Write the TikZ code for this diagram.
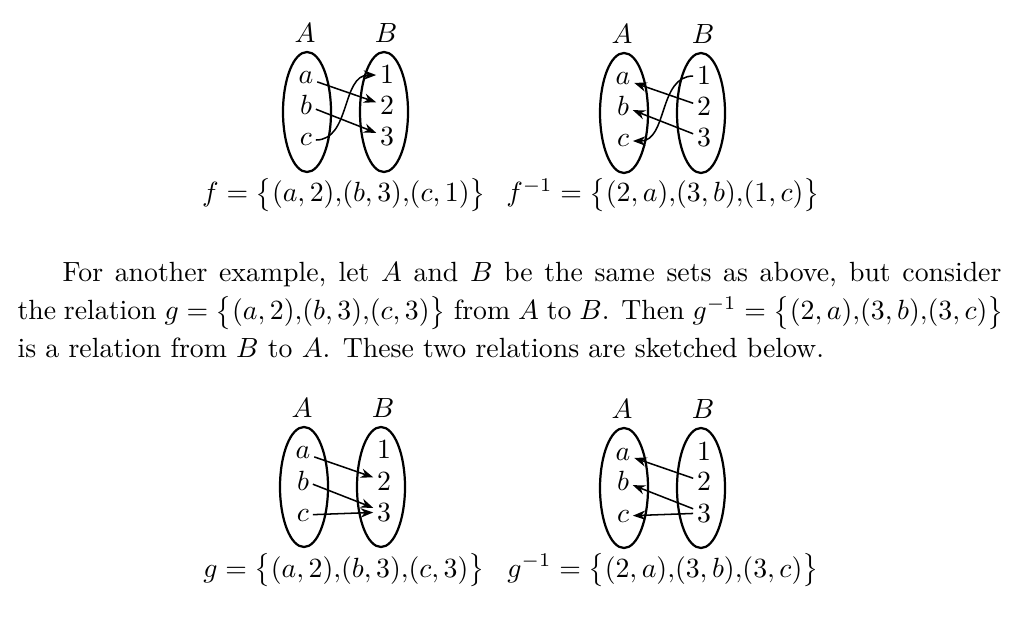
\documentclass[tikz,border=0pt]{standalone}
\usepackage{amsmath}
\usepackage{tikz}
\usetikzlibrary{
  arrows.meta,  % Tip "Stealth"
}
% Two sets A and B side by side, prefix #1, left set at (#2,#3)
\newcommand{\setpair}[3]{%
  \draw[my set] (#2,#3+60) ellipse [x radius=24,y radius=60];
  \draw[my set] (#2+77,#3+60) ellipse [x radius=24,y radius=60];
  \node[set name] (#1A) at (#2-2,#3-9) {$A$};
  \node[set name] (#1B) at (#2+79,#3-9) {$B$};
  \node[elem] (#1a) at (#2-1,#3+32) {$a$};
  \node[elem] (#1b) at (#2-1,#3+63) {$b$};
  \node[elem] (#1c) at (#2-1,#3+94) {$c$};
  \node[elem] (#11) at (#2+80,#3+32) {$1$};
  \node[elem] (#12) at (#2+80,#3+63) {$2$};
  \node[elem] (#13) at (#2+80,#3+94) {$3$};
}
\newcommand{\cm}{{,}}  % comma without space
\tikzset{
  font=\fontsize{10}{13.7}\selectfont,
  >={Stealth[length=4.5pt,width=3.4pt]},
  my set/.style={
    draw,
    line width=0.8pt
  },
  set name/.style={
    anchor=base,
    inner sep=0pt
  },
  elem/.style={
    anchor=base,
    inner sep=1.2pt
  },
  map/.style={
    ->,
    line width=0.55pt
  },
  caption/.style={
    anchor=base,
    inner sep=0pt
  },
  body/.style={
    anchor=base west,
    inner sep=0pt
  }
}
\begin{document}
\begin{tikzpicture}[x=0.36pt,y=-0.36pt]
\useasboundingbox (0,0) rectangle (1031,622);
\setpair{f}{307}{52}
\setpair{fi}{624}{53}
\setpair{g}{304}{427}
\setpair{gi}{624}{428}
% f and f^{-1}
\draw[map] (fa) -- (f2);
\draw[map] (fb) -- (f3);
\draw[map] (fc.east) to[out=0,in=180] (f1.west);
\draw[map] (fi2) -- (fia);
\draw[map] (fi3) -- (fib);
\draw[map] (fi1.west) to[out=180,in=0] (fic.east);
\node[caption] (fcap) at (344,202) {$f=\bigl\{(a,2)\cm(b,3)\cm(c,1)\bigr\}$};
\node[caption] (ficap) at (663,202) {$f^{-1}=\bigl\{(2,a)\cm(3,b)\cm(1,c)\bigr\}$};
% text
\node[body] (line1) at (62,282) {\makebox[338pt][s]{For another example, let $A$ and $B$ be the same sets as above, but consider}};
\node[body] (line2) at (17,320) {\makebox[355pt][s]{the relation $g=\bigl\{(a,2)\cm(b,3)\cm(c,3)\bigr\}$ from $A$ to $B$. Then $g^{-1}=\bigl\{(2,a)\cm(3,b)\cm(3,c)\bigr\}$}};
\node[body] (line3) at (17,358) {is a relation from $B$ to $A$. These two relations are sketched below.};
% g and g^{-1}
\draw[map] (ga) -- (g2);
\draw[map] (gb) -- (g3);
\draw[map] (gc) -- (g3);
\draw[map] (gi2) -- (gia);
\draw[map] (gi3) -- (gib);
\draw[map] (gi3) -- (gic);
\node[caption] (gcap) at (344,577) {$g=\bigl\{(a,2)\cm(b,3)\cm(c,3)\bigr\}$};
\node[caption] (gicap) at (663,577) {$g^{-1}=\bigl\{(2,a)\cm(3,b)\cm(3,c)\bigr\}$};
\end{tikzpicture}
\end{document}
